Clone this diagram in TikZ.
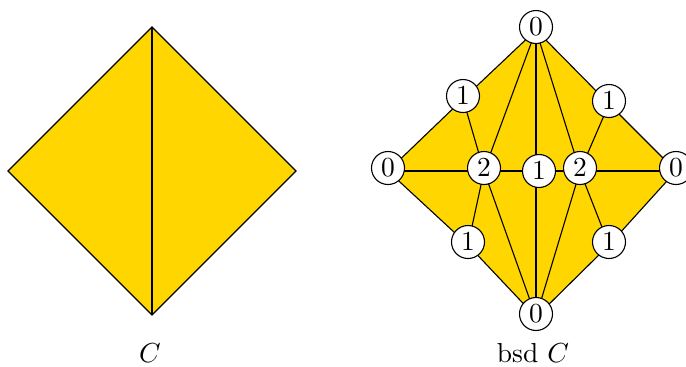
\documentclass[tikz,border=0pt]{standalone}
\usetikzlibrary{backgrounds}
\definecolor{cellgold}{RGB}{255,214,0}

\begin{document}
\begin{tikzpicture}[x=0.36364pt,y=-0.36364pt,
  vtx/.style={circle,draw,fill=white,inner sep=0pt,minimum size=12pt}]
\useasboundingbox (0,0) rectangle (686,366);
% the complex C
\coordinate (ct) at (152,27);
\coordinate (cl) at (8,171);
\coordinate (cr) at (296,171);
\coordinate (cb) at (152,315);
\filldraw[fill=cellgold] (ct)--(cl)--(cb)--(cr)--cycle;
\draw (ct)--(cb);
\node[anchor=base] (lc) at (150,362) {$C$};
% its barycentric subdivision: corner points, then labelled vertices
\foreach \n/\x/\y/\px/\py/\d in {
  t0/536/27/536/30/0, tl1/463/96/463/99/1, l0/388/168/388/171/0,
  bl1/468/242/468/245/1, b0/536/314/536/317/0, br1/609/242/609/245/1,
  r0/676/168/676/171/0, tr1/609/101/609/104/1,
  ml2/484/168/484/171/2, m1/539/171/536/171/1, mr2/580/168/580/171/2%
}{
  \coordinate (p\n) at (\px,\py);
  \node[vtx] (\n) at (\x,\y) {$\d$};
}
\begin{scope}[on background layer]
  \fill[cellgold] (pt0)--(ptl1)--(pl0)--(pbl1)--(pb0)--(pbr1)--(pr0)--(ptr1)--cycle;
  \foreach \a/\b in {t0/tl1,tl1/l0,l0/bl1,bl1/b0,b0/br1,br1/r0,r0/tr1,tr1/t0,
    t0/ml2,t0/m1,t0/mr2,tl1/ml2,l0/ml2,bl1/ml2,b0/ml2,ml2/m1,
    m1/mr2,m1/b0,tr1/mr2,r0/mr2,br1/mr2,b0/mr2}
    \draw (p\a)--(p\b);
\end{scope}
\node[anchor=base] (lbsd) at (533,362) {bsd $C$};
\end{tikzpicture}
\end{document}
